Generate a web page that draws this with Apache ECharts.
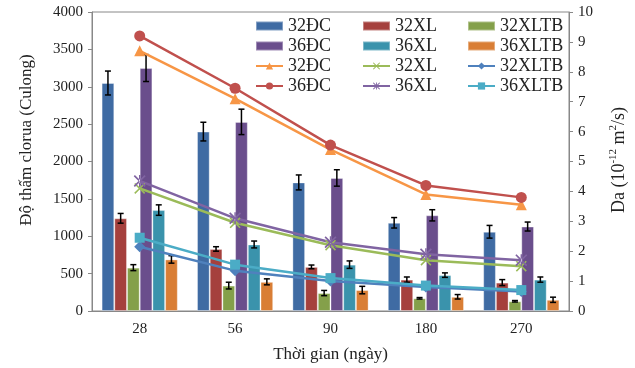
<!DOCTYPE html>
<html lang="vi">
<head>
    <meta charset="UTF-8">
    <title>Độ thấm clorua và Da</title>
    <script src="https://cdn.jsdelivr.net/npm/echarts@6/dist/echarts.min.js"></script>
    <style>
        html, body { margin: 0; padding: 0; background: #fff; }
        #main { width: 635px; height: 368px; }
    </style>
</head>
<body>
<div id="main"></div>
<script>
    // thời gian (ngày)
    var categories = ['28', '56', '90', '180', '270'];

    // độ thấm clorua (Culong) - cột
    var bar32DC = [3050, 2400, 1720, 1180, 1060];
    var bar32XL = [1240, 830, 590, 420, 380];
    var bar32XLTB = [580, 340, 240, 170, 130];
    var bar36DC = [3250, 2530, 1780, 1280, 1130];
    var bar36XL = [1350, 890, 620, 480, 420];
    var bar36XLTB = [690, 390, 280, 190, 150];

    // sai số
    var err32DC = [160, 125, 100, 70, 85];
    var err32XL = [65, 30, 25, 35, 40];
    var err32XLTB = [40, 45, 35, 10, 10];
    var err36DC = [180, 170, 110, 75, 60];
    var err36XL = [70, 46, 50, 30, 35];
    var err36XLTB = [50, 40, 50, 30, 35];

    // Da (10^-12 m2/s) - đường
    var da32DC = [8.7, 7.1, 5.4, 3.9, 3.55];
    var da36DC = [9.2, 7.45, 5.55, 4.2, 3.8];
    var da32XL = [4.1, 2.95, 2.2, 1.7, 1.5];
    var da36XL = [4.35, 3.1, 2.3, 1.9, 1.7];
    var da32XLTB = [2.15, 1.35, 1.0, 0.8, 0.65];
    var da36XLTB = [2.45, 1.55, 1.1, 0.85, 0.7];

    var font = 'Liberation Serif';
    var barW = 12.7;

    var bars = [
        {name: '32ĐC', data: bar32DC, err: err32DC, color: '#3F6BA3'},
        {name: '32XL', data: bar32XL, err: err32XL, color: '#A5403D'},
        {name: '32XLTB', data: bar32XLTB, err: err32XLTB, color: '#84A04A'},
        {name: '36ĐC', data: bar36DC, err: err36DC, color: '#6A4E8C'},
        {name: '36XL', data: bar36XL, err: err36XL, color: '#3A93AC'},
        {name: '36XLTB', data: bar36XLTB, err: err36XLTB, color: '#D97E35'}
    ];

    var xPath = 'path://M0,1 L1,0 L5,4 L9,0 L10,1 L6,5 L10,9 L9,10 L5,6 L1,10 L0,9 L4,5 Z';
    var starPath = 'path://M0,1 L1,0 L5,4 L9,0 L10,1 L6,5 L10,9 L9,10 L5,6 L1,10 L0,9 L4,5 Z M4.4,0 L4.4,10 L5.6,10 L5.6,0 Z';

    var lines = [
        {name: 'L-32ĐC', data: da32DC, color: '#F79646', symbol: 'triangle', size: 11},
        {name: 'L-32XL', data: da32XL, color: '#9BBB59', symbol: xPath, size: 11},
        {name: 'L-32XLTB', data: da32XLTB, color: '#4F81BD', symbol: 'diamond', size: 11},
        {name: 'L-36ĐC', data: da36DC, color: '#C0504D', symbol: 'circle', size: 11},
        {name: 'L-36XL', data: da36XL, color: '#8064A2', symbol: starPath, size: 12},
        {name: 'L-36XLTB', data: da36XLTB, color: '#4BACC6', symbol: 'rect', size: 10}
    ];

    var series = [];
    bars.forEach(function (b) {
        series.push({
            name: b.name,
            type: 'bar',
            yAxisIndex: 0,
            barWidth: barW,
            barGap: '0%',
            data: b.data,
            itemStyle: {color: b.color, borderColor: 'rgba(255,255,255,0.35)', borderWidth: 1}
        });
    });

    // thanh sai số
    bars.forEach(function (b, i) {
        var d = b.data.map(function (v, k) { return [k, v, b.err[k]]; });
        series.push({
            type: 'custom',
            yAxisIndex: 0,
            silent: true,
            z: 3,
            data: d,
            encode: {x: 0, y: 1},
            renderItem: function (params, api) {
                var k = api.value(0), v = api.value(1), e = api.value(2);
                var off = (i - 2.5) * barW;
                var hi = api.coord([k, v + e]);
                var lo = api.coord([k, v - e]);
                var x = hi[0] + off;
                var st = {stroke: '#000', lineWidth: 1.5};
                return {
                    type: 'group',
                    children: [
                        {type: 'line', shape: {x1: x, y1: hi[1], x2: x, y2: lo[1]}, style: st},
                        {type: 'line', shape: {x1: x - 3, y1: hi[1], x2: x + 3, y2: hi[1]}, style: st},
                        {type: 'line', shape: {x1: x - 3, y1: lo[1], x2: x + 3, y2: lo[1]}, style: st}
                    ]
                };
            }
        });
    });

    lines.forEach(function (l) {
        series.push({
            name: l.name,
            type: 'line',
            yAxisIndex: 1,
            z: 4,
            data: l.data,
            symbol: l.symbol,
            symbolSize: l.size,
            lineStyle: {color: l.color, width: 2.5},
            itemStyle: {color: l.color}
        });
    });

    // mỗi cột chú thích một legend
    function legendCol(names, left) {
        return {
            orient: 'vertical',
            left: left,
            top: 16,
            padding: 0,
            itemWidth: 27,
            itemHeight: 9,
            itemGap: 0,
            selectedMode: false,
            data: names.map(function (n) {
                return n.indexOf('L-') === 0 ? {name: n, itemStyle: {}} : {name: n, icon: 'rect', itemHeight: 8};
            }),
            formatter: function (n) { return n.replace('L-', ''); },
            textStyle: {fontFamily: font, fontSize: 18, color: '#222', lineHeight: 20}
        };
    }

    var myChart = echarts.init(document.getElementById('main'));
    var option = {
        backgroundColor: '#fff',
        animation: false,
        grid: {left: 92, right: 66, top: 12, bottom: 50, show: true, borderColor: '#888', borderWidth: 1},
        legend: [
            legendCol(['32ĐC', '36ĐC', 'L-32ĐC', 'L-36ĐC'], 255),
            legendCol(['32XL', '36XL', 'L-32XL', 'L-36XL'], 362),
            legendCol(['32XLTB', '36XLTB', 'L-32XLTB', 'L-36XLTB'], 467)
        ],
        xAxis: {
            type: 'category',
            data: categories,
            name: 'Thời gian (ngày)',
            nameLocation: 'middle',
            nameGap: 35,
            nameTextStyle: {fontFamily: font, fontSize: 17, color: '#222'},
            axisLine: {lineStyle: {color: '#888'}},
            axisTick: {length: 4, lineStyle: {color: '#888'}},
            axisLabel: {fontFamily: font, fontSize: 15, color: '#222', margin: 11}
        },
        yAxis: [
            {
                type: 'value',
                min: 0, max: 4000, interval: 500,
                splitLine: {show: false},
                axisLine: {show: true, lineStyle: {color: '#888'}},
                axisTick: {show: true, length: 4, lineStyle: {color: '#888'}},
                axisLabel: {fontFamily: font, fontSize: 15, color: '#222', margin: 9, formatter: function (v) { return String(v); }}
            },
            {
                type: 'value',
                min: 0, max: 10, interval: 1,
                splitLine: {show: false},
                axisLine: {show: true, lineStyle: {color: '#888'}},
                axisTick: {show: true, length: 4, lineStyle: {color: '#888'}},
                axisLabel: {fontFamily: font, fontSize: 15, color: '#222', margin: 9}
            }
        ],
        graphic: [
            {
                type: 'text', x: 27, y: 140, rotation: Math.PI / 2,
                style: {text: 'Độ thấm clorua (Culong)', fontFamily: font, fontSize: 17, fill: '#222', align: 'center', verticalAlign: 'middle'}
            },
            {
                type: 'text', x: 618, y: 160, rotation: Math.PI / 2,
                style: {
                    text: '{n|Da (10}{s|-12}{n| m}{s|2}{n|/s)}',
                    align: 'center', verticalAlign: 'middle',
                    rich: {
                        n: {fontFamily: font, fontSize: 18, fill: '#222', lineHeight: 20, verticalAlign: 'bottom'},
                        s: {fontFamily: font, fontSize: 11, fill: '#222', lineHeight: 20, verticalAlign: 'top'}
                    }
                }
            }
        ],
        series: series
    };
    myChart.setOption(option);
</script>
</body>
</html>
